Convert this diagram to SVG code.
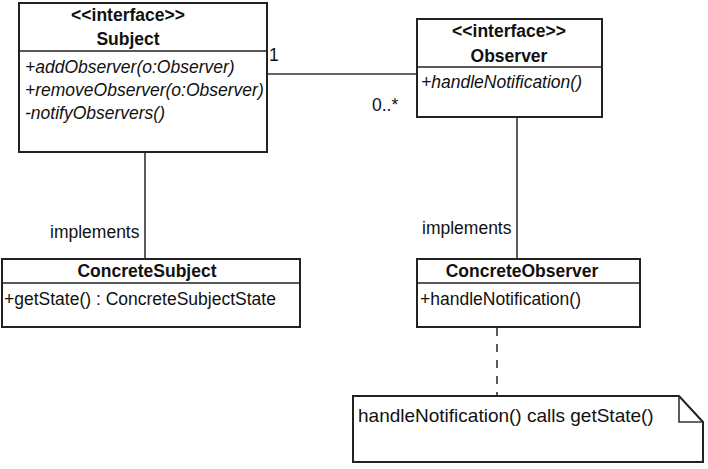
<svg xmlns="http://www.w3.org/2000/svg" width="708" height="469" viewBox="0 0 708 469">
<style>
.box{fill:#fff;stroke:#222;stroke-width:2}
.div{stroke:#222;stroke-width:1.6}
.ln{stroke:#333;stroke-width:1.6;fill:none}
.dash{stroke:#333;stroke-width:1.6;fill:none;stroke-dasharray:8,8}
text{font-family:"Liberation Sans",Arial,sans-serif;font-size:17.5px;fill:#111}
.b{font-weight:bold}
.c{text-anchor:middle}
.i{font-style:italic}
.note{font-size:19px}
</style>
<rect width="708" height="469" fill="#fff"/>
<g id="connectors">
<line class="ln" x1="267" y1="74" x2="417" y2="74"/>
<line class="ln" x1="145" y1="152" x2="145" y2="259"/>
<line class="ln" x1="517" y1="117" x2="517" y2="259"/>
<line class="dash" x1="497" y1="328" x2="497" y2="396"/>
<text x="269" y="61">1</text>
<text x="372" y="111">0..*</text>
<text x="50" y="238">implements</text>
<text x="422" y="234">implements</text>
</g>
<g id="Subject">
<rect class="box" x="19" y="3" width="248" height="149"/>
<line class="div" x1="19" y1="51" x2="267" y2="51"/>
<text class="b c" x="128" y="21">&lt;&lt;interface&gt;&gt;</text>
<text class="b c" x="128" y="45">Subject</text>
<text class="i" x="25" y="73">+addObserver(o:Observer)</text>
<text class="i" x="25" y="96">+removeObserver(o:Observer)</text>
<text class="i" x="25" y="119">-notifyObservers()</text>
</g>
<g id="Observer">
<rect class="box" x="417" y="19" width="185" height="98"/>
<line class="div" x1="417" y1="67" x2="602" y2="67"/>
<text class="b c" x="509" y="37">&lt;&lt;interface&gt;&gt;</text>
<text class="b c" x="509" y="62">Observer</text>
<text class="i" x="421" y="88">+handleNotification()</text>
</g>
<g id="ConcreteSubject">
<rect class="box" x="2" y="259" width="298" height="68"/>
<line class="div" x1="2" y1="283" x2="300" y2="283"/>
<text class="b c" x="147" y="277">ConcreteSubject</text>
<text x="4" y="305">+getState() : ConcreteSubjectState</text>
</g>
<g id="ConcreteObserver">
<rect class="box" x="417" y="259" width="223" height="68"/>
<line class="div" x1="417" y1="283" x2="640" y2="283"/>
<text class="b c" x="522" y="277">ConcreteObserver</text>
<text x="420" y="305">+handleNotification()</text>
</g>
<g id="Note">
<path class="box" d="M353,396 H679 L703,422 V462 H353 Z"/>
<path class="ln" d="M679,396 V422 H703"/>
<text class="note" x="358" y="422">handleNotification() calls getState()</text>
</g>
</svg>
